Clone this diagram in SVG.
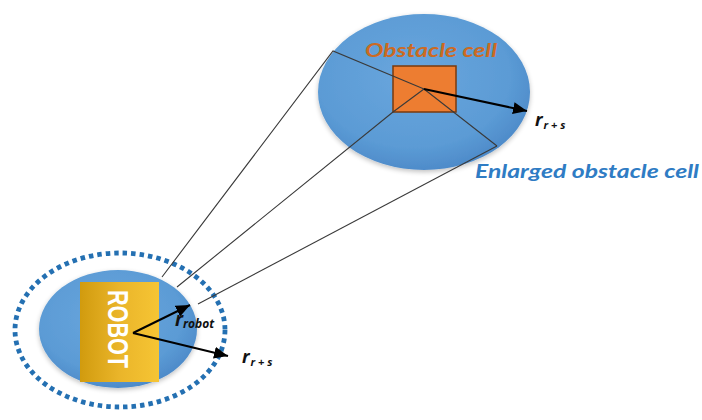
<svg xmlns="http://www.w3.org/2000/svg" width="702" height="420" viewBox="0 0 702 420">
  <defs>
    <radialGradient id="blueFill" cx="0.45" cy="0.4" r="0.65">
      <stop offset="0" stop-color="#6aa6dd"/>
      <stop offset="0.7" stop-color="#5b9bd5"/>
      <stop offset="1" stop-color="#4a86c6"/>
    </radialGradient>
    <linearGradient id="goldFill" x1="0" y1="0" x2="1" y2="0">
      <stop offset="0" stop-color="#d19b0e"/>
      <stop offset="0.5" stop-color="#eab52a"/>
      <stop offset="1" stop-color="#f6c534"/>
    </linearGradient>
    <filter id="soft" x="-20%" y="-20%" width="140%" height="140%">
      <feGaussianBlur in="SourceAlpha" stdDeviation="2.5"/>
      <feOffset dy="2"/>
      <feComponentTransfer><feFuncA type="linear" slope="0.25"/></feComponentTransfer>
      <feMerge><feMergeNode/><feMergeNode in="SourceGraphic"/></feMerge>
    </filter>
    <marker id="head" markerUnits="userSpaceOnUse" markerWidth="16" markerHeight="12" refX="14" refY="6" orient="auto">
      <path d="M0,0 L14,6 L0,12 Z" fill="#000"/>
    </marker>
  </defs>
  <style>
    .disc { fill: url(#blueFill); filter: url(#soft); }
    .thin { stroke: #3a3a3a; stroke-width: 1.1; fill: none; }
    .arrow { stroke: #000; stroke-width: 2; fill: none; marker-end: url(#head); }
    .lbl { font-family: "Lato", "Open Sans", "Liberation Sans", sans-serif; font-style: italic; font-weight: bold; }
    .sym { font-family: "Open Sans", "Liberation Sans", sans-serif; font-style: italic; font-weight: bold; fill: #111; }
  </style>

  <!-- enlarged obstacle cell -->
  <g id="enlarged-obstacle">
    <ellipse class="disc" cx="424" cy="92" rx="106" ry="78"/>
  </g>

  <!-- obstacle cell -->
  <g id="obstacle-cell">
    <rect x="393" y="66" width="63" height="46" fill="#ed7d31" stroke="#7a3a0c" stroke-width="1.5"/>
    <text class="lbl" x="431" y="57" font-size="19" fill="#cc6a22" text-anchor="middle" textLength="132" lengthAdjust="spacingAndGlyphs">Obstacle cell</text>
  </g>

  <!-- robot with its safety ring -->
  <g id="robot">
    <ellipse cx="120" cy="330" rx="105" ry="77" fill="none" stroke="#2470b2" stroke-width="4.8" stroke-dasharray="4.5 4"/>
    <ellipse class="disc" cx="118" cy="329" rx="79" ry="59"/>
    <rect x="80" y="282" width="79" height="100" fill="url(#goldFill)"/>
    <text x="118" y="329" transform="rotate(90 118 329)" dy="10" font-family="Liberation Sans, Arial, sans-serif" font-weight="bold" font-size="29" fill="#fff" text-anchor="middle" textLength="78" lengthAdjust="spacingAndGlyphs">ROBOT</text>
  </g>

  <!-- connectors -->
  <g id="connectors">
    <polyline class="thin" points="162,277 333,51 424,89"/>
    <polyline class="thin" points="177,287 393,112 424,89 497,146"/>
    <line class="thin" x1="198" y1="304" x2="497" y2="146"/>
    <line class="arrow" x1="424" y1="89" x2="527" y2="111"/>
    <line class="arrow" x1="133" y1="333" x2="190" y2="305"/>
    <line class="arrow" x1="133" y1="333" x2="228" y2="356"/>
  </g>

  <!-- radius labels -->
  <g id="labels">
    <text class="sym" x="535" y="126" font-size="18">r<tspan font-size="11" dy="3" dx="1">r + s</tspan></text>
    <text class="sym" x="175" y="326" font-size="19">r<tspan font-size="12" dy="2" dx="0">robot</tspan></text>
    <text class="sym" x="242" y="363" font-size="18">r<tspan font-size="11" dy="3" dx="1">r + s</tspan></text>
    <text class="lbl" x="475" y="178" font-size="19" fill="#2f7cc4" textLength="224" lengthAdjust="spacingAndGlyphs">Enlarged obstacle cell</text>
  </g>
</svg>
